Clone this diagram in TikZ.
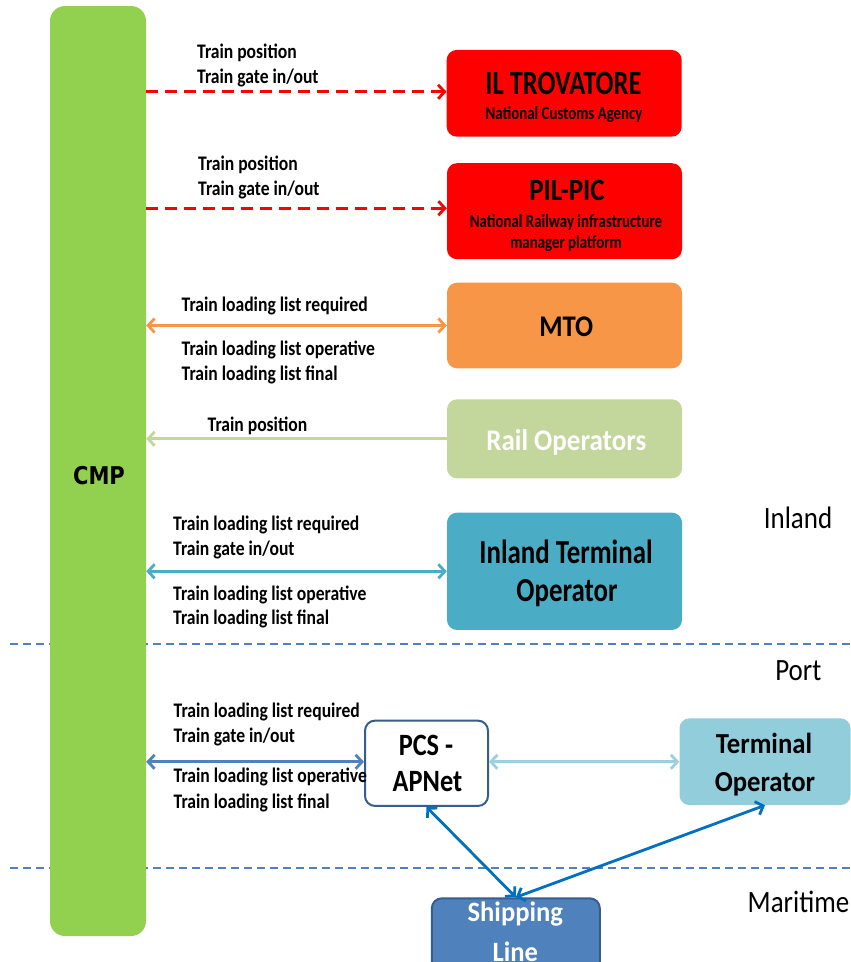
\documentclass[tikz,border=0pt]{standalone}
\usepackage{fontspec}
\setmainfont{Carlito}
\newfontfamily\cmpfont{DejaVu Sans}
\usetikzlibrary{arrows.meta,calc}
\definecolor{cmpgreen}{HTML}{92D050}
\definecolor{iltred}{HTML}{FF0000}
\definecolor{mtoorange}{HTML}{F79646}
\definecolor{railgreen}{HTML}{C3D69B}
\definecolor{itoteal}{HTML}{4BACC6}
\definecolor{pcsblue}{HTML}{4F81BD}
\definecolor{pcsborder}{HTML}{385D8A}
\definecolor{tolight}{HTML}{92CDDC}
\definecolor{tolink}{HTML}{9DCFDF}
\definecolor{diagblue}{HTML}{0070C0}
\definecolor{sepblue}{HTML}{4F81BD}
\newcommand\ft[3]{\fontsize{#1}{#2}\selectfont\addfontfeatures{FakeStretch=#3}}
\tikzset{
  bb/.tip={Straight Barb[length=6.5pt,width=14pt]},
  box/.style={rounded corners=10pt, inner sep=0pt, draw=none},
  txt/.style={anchor=base, inner sep=0pt},
  lbl/.style={anchor=base west, inner sep=0pt, font={\bfseries\ft{20.7}{25}{0.85}}},
  zone/.style={anchor=base, inner sep=0pt, font={\ft{31}{37}{0.87}}},
  sepline/.style={draw=sepblue, line width=2.4pt, dash pattern=on 8pt off 5pt},
  conn/.style={line width=2.8pt},
}
\begin{document}
\begin{tikzpicture}[x=1pt,y=-1pt]
\useasboundingbox (0,0) rectangle (851,962);
\clip (0,0) rectangle (851,962);

% zone separators
\coordinate (s1a) at (10,644);
\coordinate (s1b) at (851,644);
\coordinate (s2a) at (10,868);
\coordinate (s2b) at (851,868);
\draw[sepline] (s1a) -- (s1b);
\draw[sepline] (s2a) -- (s2b);

% CMP column
\node[box, rounded corners=15pt, fill=cmpgreen, minimum width=96pt, minimum height=930pt] (cmp) at (98,471) {};
\node[txt, font={\cmpfont\bfseries\ft{24.5}{29}{0.86}}] (cmpT) at (99,484) {CMP};

% boxes
\node[box, fill=iltred, minimum width=235pt, minimum height=86.7pt] (ilt) at (564.2,93.3) {};
\node[box, fill=iltred, minimum width=235pt, minimum height=96pt] (pil) at (564.5,211.2) {};
\node[box, fill=mtoorange, minimum width=235pt, minimum height=85.6pt] (mto) at (564.5,325.5) {};
\node[box, fill=railgreen, minimum width=235pt, minimum height=79pt] (rail) at (564.5,438.8) {};
\node[box, fill=itoteal, minimum width=235pt, minimum height=117.3pt] (ito) at (564.5,571.3) {};
\node[box, fill=white, draw=pcsborder, line width=2pt, minimum width=123pt, minimum height=85.3pt] (pcs) at (426.5,763.3) {};
\node[box, fill=tolight, minimum width=171pt, minimum height=86.7pt] (to) at (765,761.7) {};
\node[box, fill=pcsblue, draw=pcsborder, line width=2pt, minimum width=168pt, minimum height=82pt] (sl) at (515.8,939.3) {};

% box texts
\node[txt, font={\bfseries\ft{34}{40}{0.78}}] (iltT) at (563.5,94) {IL TROVATORE};
\node[txt, font={\bfseries\ft{18.6}{22}{0.80}}] (iltS) at (564,119.3) {National Customs Agency};
\node[txt, font={\bfseries\ft{31}{37}{0.87}}] (pilT) at (567,200) {PIL-PIC};
\node[txt, font={\bfseries\ft{18.6}{22}{0.80}}] (pilS1) at (566,227) {National Railway infrastructure};
\node[txt, font={\bfseries\ft{18.6}{22}{0.80}}] (pilS2) at (566,248) {manager platform};
\node[txt, font={\bfseries\ft{30}{36}{0.89}}] (mtoT) at (566.3,336.7) {MTO};
\node[txt, text=white, font={\bfseries\ft{30}{36}{0.90}}] (railT) at (566.3,450) {Rail Operators};
\node[txt, font={\bfseries\ft{33.6}{40}{0.80}}] (itoT1) at (566,563.3) {Inland Terminal};
\node[txt, font={\bfseries\ft{33.6}{40}{0.80}}] (itoT2) at (567,601.7) {Operator};
\node[txt, font={\bfseries\ft{31}{37}{0.85}}] (pcsT1) at (426,755) {PCS -};
\node[txt, font={\bfseries\ft{31}{37}{0.85}}] (pcsT2) at (427.5,791.7) {APNet};
\node[txt, font={\bfseries\ft{29}{35}{0.92}}] (toT1) at (764,753.3) {Terminal};
\node[txt, font={\bfseries\ft{29}{35}{0.92}}] (toT2) at (765,791.7) {Operator};
\node[txt, text=white, font={\bfseries\ft{28}{34}{0.95}}] (slT1) at (515.3,921.7) {Shipping};
\node[txt, text=white, font={\bfseries\ft{28}{34}{0.95}}] (slT2) at (515.3,961) {Line};

% zone labels
\node[zone] (zInland) at (798,528.3) {Inland};
\node[zone] (zPort) at (798.3,680) {Port};
\node[zone] (zMaritime) at (798.5,912) {Maritime};

% connector end points
\coordinate (iltIn) at ([yshift=1.5pt]ilt.west);
\coordinate (pilIn) at ([yshift=3pt]pil.west);
\coordinate (pcsIn) at ([yshift=1.5pt]pcs.west);
\coordinate (pcsOut) at ([yshift=1.5pt]pcs.east);

% connectors
\draw[conn, draw=iltred, dash pattern=on 12pt off 7pt, -bb] (cmp.east |- iltIn) -- (iltIn);
\draw[conn, draw=iltred, dash pattern=on 12pt off 7pt, -bb] (cmp.east |- pilIn) -- (pilIn);
\draw[conn, draw=mtoorange, bb-bb] (cmp.east |- mto.west) -- (mto.west);
\draw[conn, draw=railgreen, -bb] (rail.west) -- (cmp.east |- rail.west);
\draw[conn, draw=itoteal, bb-bb] (cmp.east |- ito.west) -- (ito.west);
\draw[conn, draw=pcsblue, bb-bb] (cmp.east |- pcsIn) -- (pcsIn);
\draw[conn, draw=tolink, bb-bb] (pcsOut) -- (to.west |- pcsOut);
\draw[conn, draw=diagblue, bb-bb] (pcs.south) -- (sl.north);
\draw[conn, draw=diagblue, bb-bb] (sl.north) -- (to.south);

% connector labels
\node[lbl] (l1a) at (197,58.3) {Train position};
\node[lbl] (l1b) at (197,83.3) {Train gate in/out};
\node[lbl] (l2a) at (198,170) {Train position};
\node[lbl] (l2b) at (198,195) {Train gate in/out};
\node[lbl] (l3a) at (181.5,311.7) {Train loading list required};
\node[lbl] (l3b) at (181.5,355) {Train loading list operative};
\node[lbl] (l3c) at (181.5,380) {Train loading list final};
\node[lbl] (l4a) at (207.5,431.7) {Train position};
\node[lbl] (l5a) at (173,530) {Train loading list required};
\node[lbl] (l5b) at (173,555) {Train gate in/out};
\node[lbl] (l5c) at (173,600) {Train loading list operative};
\node[lbl] (l5d) at (173,624) {Train loading list final};
\node[lbl] (l6a) at (173.5,717) {Train loading list required};
\node[lbl] (l6b) at (173.5,742) {Train gate in/out};
\node[lbl] (l6c) at (173.5,782) {Train loading list operative};
\node[lbl] (l6d) at (173.5,808) {Train loading list final};
\end{tikzpicture}
\end{document}
